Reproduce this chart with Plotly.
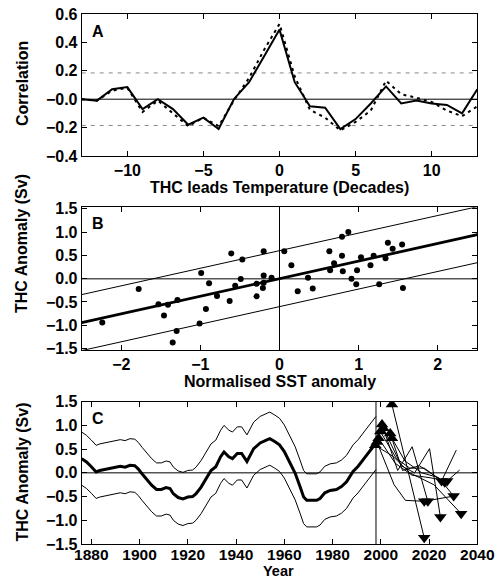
import plotly.graph_objects as go

# ---------------- Panel A data ----------------
lags = list(range(-13, 14))
corr_solid = [0.00, -0.01, 0.07, 0.085, -0.07, 0.00, -0.07, -0.18, -0.13, -0.21, 0.00, 0.12, 0.305,
              0.49, 0.12, -0.05, -0.06, -0.21, -0.14, -0.03, 0.09, -0.03, -0.01, -0.03, -0.04, -0.10, 0.07]
corr_dashed = [0.00, -0.01, 0.06, 0.08, -0.09, -0.01, -0.10, -0.19, -0.13, -0.19, -0.01, 0.15, 0.35,
               0.53, 0.16, -0.075, -0.13, -0.22, -0.16, -0.08, 0.13, 0.035, 0.01, -0.02, -0.08, -0.12, -0.05]
sig_level = 0.185

# ---------------- Panel B data ----------------
sst_x = [-2.24, -1.78, -1.53, -1.41, -1.46, -1.29, -1.30, -1.35, -1.01, -0.99, -0.93, -0.89, -0.79,
         -0.63, -0.61, -0.56, -0.49, -0.47, -0.20, -0.29, -0.20, -0.20, -0.21, -0.29, -0.10, 0.06,
         0.15, 0.23, 0.36, 0.42, 0.63, 0.64, 0.69, 0.79, 0.87, 0.79, 0.80, 0.91, 0.98, 0.97, 1.03,
         1.15, 1.19, 1.26, 1.34, 1.37, 1.43, 1.55, 1.56]
thc_y = [-0.94, -0.22, -0.55, -0.56, -0.79, -0.46, -1.12, -1.37, -0.96, 0.12, -0.65, -0.10, -0.37,
         -0.48, 0.54, -0.15, -0.01, 0.41, 0.59, -0.11, 0.07, -0.09, -0.20, -0.38, 0.02, 0.59,
         0.29, -0.27, 0.02, -0.21, 0.59, 0.18, 0.33, 0.90, 1.00, 0.49, 0.16, 0.00, 0.18, -0.12, 0.46,
         0.29, 0.49, -0.12, 0.44, 0.77, 0.64, 0.73, -0.20]
fit_slope = 0.377
fit_intercept = 0.0
fit_band = 0.6
fit_x = [-2.5, 2.5]

# ---------------- Panel C data ----------------
years = [1876, 1878, 1880, 1882, 1883.5, 1886, 1889, 1892, 1894, 1896, 1898, 1899.5, 1901, 1903,
         1905, 1907, 1909, 1911, 1912.6, 1914, 1916, 1918, 1920, 1922, 1923.4, 1925.5, 1927.5,
         1929.6, 1931.6, 1933.6, 1935, 1937, 1938.5, 1940.5, 1942.3, 1944.5, 1947.3, 1950, 1953,
         1954, 1956, 1958, 1960, 1962, 1964.5, 1966.5, 1968, 1969.3, 1971.4, 1973.4, 1974.8,
         1976.8, 1979, 1981.6, 1983.7, 1985.8, 1988.5, 1990.6, 1992.7, 1994.7, 1996.8, 1998]
thc_recon = [0.30, 0.23, 0.13, 0.02, 0.05, 0.08, 0.12, 0.14, 0.12, 0.16, 0.15, 0.08, -0.02, -0.14,
             -0.26, -0.35, -0.35, -0.31, -0.33, -0.44, -0.52, -0.55, -0.51, -0.50, -0.44, -0.30, -0.13,
             0.05, 0.13, 0.34, 0.44, 0.34, 0.30, 0.41, 0.41, 0.24, 0.51, 0.63, 0.70,
             0.72, 0.66, 0.59, 0.45, 0.24, -0.01, -0.29, -0.51, -0.58, -0.58, -0.58, -0.54,
             -0.42, -0.37, -0.35, -0.29, -0.19, 0.03, 0.14, 0.28, 0.42, 0.56, 0.63]
recon_band = 0.56
present_year = 1998

traj_years = [
    [2004.6, 2010.5, 2018.0],
    [1998.4, 2005.5, 2010.2, 2018.0, 2030.2],
    [2000.5, 2007.0, 2013.0, 2019.5],
    [2001.1, 2008.5, 2014.0, 2020.2, 2024.7],
    [1999.8, 2006.5, 2012.0, 2018.0, 2025.2, 2031.3],
    [2003.9, 2009.0, 2016.0, 2022.0, 2026.5],
    [1999.1, 2006.0, 2013.0, 2020.0, 2027.5, 2032.7],
    [2004.6, 2010.0, 2017.0, 2024.0, 2030.2],
    [1997.7, 2005.0, 2012.0, 2022.0, 2033.3],
]
traj_values = [
    [1.44, 0.20, -1.37],
    [0.65, -0.25, -0.58, -0.60, -0.49],
    [1.02, 0.05, 0.55, -0.60],
    [0.94, 0.15, 0.00, 0.51, -0.93],
    [0.87, 0.30, 0.10, 0.10, -0.17, 0.48],
    [0.83, 0.05, 0.15, -0.05, -0.20],
    [0.73, 0.20, -0.05, -0.10, -0.17, 0.06],
    [0.73, 0.25, 0.00, -0.10, -0.49],
    [0.58, 0.35, 0.00, -0.25, -0.86],
]
traj_end_index = [2, 3, 3, 4, 4, 4, 4, 4, 4]

# tick labels
a_xticks = [-10, -5, 0, 5, 10]
a_xticktext = ["\u221210", "\u22125", "0", "5", "10"]
a_yticks = [-0.4, -0.2, 0.0, 0.2, 0.4, 0.6]
a_yticktext = ["\u22120.4", "\u22120.2", "\u22120.0", "0.2", "0.4", "0.6"]
b_xticks = [-2, -1, 0, 1, 2]
b_xticktext = ["\u22122", "\u22121", "0", "1", "2"]
thc_yticks = [-1.5, -1.0, -0.5, 0.0, 0.5, 1.0, 1.5]
thc_yticktext = ["\u22121.5", "\u22121.0", "\u22120.5", "0.0", "0.5", "1.0", "1.5"]
c_xticks = [1880, 1900, 1920, 1940, 1960, 1980, 2000, 2020, 2040]

FONT = "Liberation Sans, Arial, sans-serif"
W, H = 499, 580

fig = go.Figure()

# ---- Panel A ----
fig.add_trace(go.Scatter(x=[-13, 13], y=[0, 0], mode="lines", line=dict(color="black", width=1),
                         xaxis="x", yaxis="y", hoverinfo="skip"))
for s in (sig_level, -sig_level):
    fig.add_trace(go.Scatter(x=[-13, 13], y=[s, s], mode="lines",
                             line=dict(color="#888888", width=1, dash="4px,5px"),
                             xaxis="x", yaxis="y", hoverinfo="skip"))
fig.add_trace(go.Scatter(x=lags, y=corr_dashed, mode="lines",
                         line=dict(color="black", width=2, dash="3px,4px"), xaxis="x", yaxis="y"))
fig.add_trace(go.Scatter(x=lags, y=corr_solid, mode="lines",
                         line=dict(color="black", width=2), xaxis="x", yaxis="y"))

# ---- Panel B ----
fig.add_trace(go.Scatter(x=[-2.5, 2.5], y=[0, 0], mode="lines", line=dict(color="#555555", width=1.5),
                         xaxis="x2", yaxis="y2", hoverinfo="skip"))
fig.add_trace(go.Scatter(x=[0, 0], y=[-1.6, 1.6], mode="lines", line=dict(color="black", width=1),
                         xaxis="x2", yaxis="y2", hoverinfo="skip"))
fit_y = [fit_intercept + fit_slope * v for v in fit_x]
fig.add_trace(go.Scatter(x=fit_x, y=[v + fit_band for v in fit_y], mode="lines",
                         line=dict(color="black", width=1), xaxis="x2", yaxis="y2"))
fig.add_trace(go.Scatter(x=fit_x, y=[v - fit_band for v in fit_y], mode="lines",
                         line=dict(color="black", width=1), xaxis="x2", yaxis="y2"))
fig.add_trace(go.Scatter(x=fit_x, y=fit_y, mode="lines",
                         line=dict(color="black", width=2.8), xaxis="x2", yaxis="y2"))
fig.add_trace(go.Scatter(x=sst_x, y=thc_y, mode="markers",
                         marker=dict(color="black", size=6), xaxis="x2", yaxis="y2"))

# ---- Panel C ----
fig.add_trace(go.Scatter(x=[1876, 2040], y=[0, 0], mode="lines", line=dict(color="#555555", width=1.5),
                         xaxis="x3", yaxis="y3", hoverinfo="skip"))
fig.add_trace(go.Scatter(x=[present_year, present_year], y=[-1.6, 1.6], mode="lines",
                         line=dict(color="black", width=1), xaxis="x3", yaxis="y3", hoverinfo="skip"))
fig.add_trace(go.Scatter(x=years, y=[v + recon_band for v in thc_recon], mode="lines",
                         line=dict(color="black", width=1), xaxis="x3", yaxis="y3"))
fig.add_trace(go.Scatter(x=years, y=[v - recon_band for v in thc_recon], mode="lines",
                         line=dict(color="black", width=1), xaxis="x3", yaxis="y3"))
fig.add_trace(go.Scatter(x=years, y=thc_recon, mode="lines",
                         line=dict(color="black", width=3), xaxis="x3", yaxis="y3"))
for ty, tv in zip(traj_years, traj_values):
    fig.add_trace(go.Scatter(x=ty, y=tv, mode="lines", line=dict(color="black", width=1),
                             xaxis="x3", yaxis="y3"))
fig.add_trace(go.Scatter(x=[t[0] for t in traj_years], y=[t[0] for t in traj_values], mode="markers",
                         marker=dict(symbol="triangle-up", color="black", size=11),
                         xaxis="x3", yaxis="y3"))
fig.add_trace(go.Scatter(x=[t[i] for t, i in zip(traj_years, traj_end_index)],
                         y=[t[i] for t, i in zip(traj_values, traj_end_index)], mode="markers",
                         marker=dict(symbol="triangle-down", color="black", size=11),
                         xaxis="x3", yaxis="y3"))

x0, x1 = 81.7 / W, 477.3 / W
def ydom(top, bottom):
    return [1 - bottom / H, 1 - top / H]

tickfont = dict(family=FONT, size=16, color="black", weight="bold")
common = dict(showgrid=False, zeroline=False, showline=True, linecolor="black", linewidth=1,
              mirror="ticks", ticks="inside", ticklen=5, tickcolor="black", tickwidth=1,
              tickfont=tickfont, automargin=False)
common_c_x = dict(common)
common_c_x["tickfont"] = dict(family=FONT, size=15.5, color="black", weight="bold")

fig.update_layout(
    width=W, height=H, margin=dict(l=0, r=0, t=0, b=0, autoexpand=False),
    paper_bgcolor="white", plot_bgcolor="white", showlegend=False,
    xaxis=dict(domain=[x0, x1], range=[-13, 13], tickvals=a_xticks, ticktext=a_xticktext,
               anchor="y", **common),
    yaxis=dict(domain=ydom(14, 156), range=[-0.4, 0.6], tickvals=a_yticks, ticktext=a_yticktext,
               anchor="x", **common),
    xaxis2=dict(domain=[x0, x1], range=[-2.5, 2.5], tickvals=b_xticks, ticktext=b_xticktext,
                anchor="y2", **common),
    yaxis2=dict(domain=ydom(207.3, 350), range=[-1.53, 1.53], tickvals=thc_yticks,
                ticktext=thc_yticktext, anchor="x2", **common),
    xaxis3=dict(domain=[x0, x1], range=[1876, 2040], tickvals=c_xticks, anchor="y3",
                ticklabelstandoff=-4, **common_c_x),
    yaxis3=dict(domain=ydom(401.7, 544), range=[-1.5, 1.5], tickvals=thc_yticks,
                ticktext=thc_yticktext, anchor="x3", **common),
)

titlefont = dict(family=FONT, size=16, color="black", weight="bold")
annotations = [
    dict(text="Correlation", x=22 / W, y=1 - 84 / H, textangle=-90),
    dict(text="THC Anomaly (Sv)", x=22 / W, y=1 - 244 / H, textangle=-90),
    dict(text="THC Anomaly (Sv)", x=22 / W, y=1 - 472.5 / H, textangle=-90),
    dict(text="THC leads Temperature (Decades)", x=279.5 / W, y=1 - 187 / H),
    dict(text="Normalised SST anomaly", x=279.5 / W, y=1 - 381.7 / H),
    dict(text="A", x=98 / W, y=1 - 31 / H),
    dict(text="B", x=98 / W, y=1 - 223.3 / H),
    dict(text="C", x=98 / W, y=1 - 418.3 / H),
]
for a in annotations:
    fig.add_annotation(xref="paper", yref="paper", showarrow=False, xanchor="center", yanchor="middle",
                       font=titlefont, **a)
fig.add_annotation(xref="paper", yref="paper", showarrow=False, xanchor="center", yanchor="bottom",
                   x=278 / W, y=0, text="Year", borderpad=0,
                   font=dict(family=FONT, size=14.5, color="black", weight="bold"))

fig.write_html("out.html", config={"displayModeBar": False},
               post_script="document.body.style.margin='0';document.body.style.overflow='hidden';")
